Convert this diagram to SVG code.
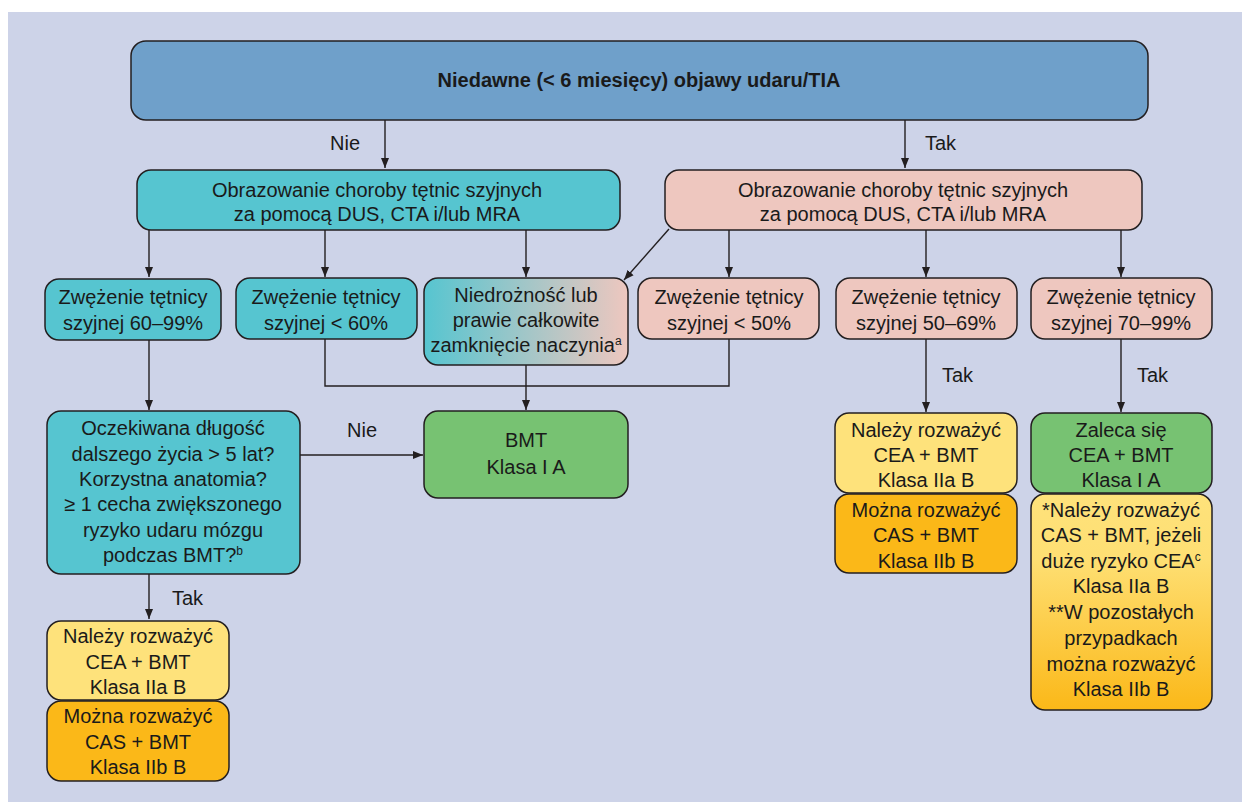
<svg xmlns="http://www.w3.org/2000/svg" width="1242" height="802" viewBox="0 0 1242 802">
<defs>
<style>
.box{stroke:#231f20;stroke-width:1.5}
.t{font-family:"Liberation Sans",Arial,sans-serif;font-size:20px;fill:#1a1a1a;text-anchor:middle}
.tb{font-family:"Liberation Sans",Arial,sans-serif;font-size:20px;font-weight:bold;fill:#1a1a1a;text-anchor:middle}
.lbl{font-family:"Liberation Sans",Arial,sans-serif;font-size:20px;fill:#1a1a1a}
.teal{fill:#56c5d0}
.pink{fill:#eec7bf}
.green{fill:#77c272}
.yellow{fill:#fee27b}
.orange{fill:#fbb818}
.c{fill:none;stroke:#231f20;stroke-width:1.4}
.sup{font-size:12px}
</style>
<marker id="ah" markerUnits="userSpaceOnUse" markerWidth="10" markerHeight="10" viewBox="0 0 10 10" refX="10" refY="5" orient="auto">
<path d="M0,1 L10,5 L0,9 z" fill="#231f20"/>
</marker>
<linearGradient id="tp" x1="0" y1="0" x2="1" y2="0">
<stop offset="0" stop-color="#56c5d0"/>
<stop offset="1" stop-color="#eec7bf"/>
</linearGradient>
<linearGradient id="yo" x1="0" y1="0" x2="0" y2="1">
<stop offset="0" stop-color="#fee27b"/>
<stop offset="0.3" stop-color="#fedf73"/>
<stop offset="1" stop-color="#fbb818"/>
</linearGradient>
</defs>
<rect x="8" y="12" width="1234" height="790" fill="#cdd3e8"/>

<g id="connectors">
<line class="c" x1="385" y1="120" x2="385" y2="168" marker-end="url(#ah)"/>
<line class="c" x1="905" y1="120" x2="905" y2="168" marker-end="url(#ah)"/>
<line class="c" x1="149" y1="230" x2="149" y2="277" marker-end="url(#ah)"/>
<line class="c" x1="325" y1="230" x2="325" y2="277" marker-end="url(#ah)"/>
<line class="c" x1="526" y1="230" x2="526" y2="277" marker-end="url(#ah)"/>
<line class="c" x1="669" y1="229" x2="624" y2="280" marker-end="url(#ah)"/>
<line class="c" x1="729" y1="230" x2="729" y2="277" marker-end="url(#ah)"/>
<line class="c" x1="926" y1="230" x2="926" y2="277" marker-end="url(#ah)"/>
<line class="c" x1="1121" y1="230" x2="1121" y2="277" marker-end="url(#ah)"/>
<polyline class="c" points="325,339 325,386 729,386 729,339"/>
<line class="c" x1="526" y1="365" x2="526" y2="410" marker-end="url(#ah)"/>
<line class="c" x1="149" y1="340" x2="149" y2="410" marker-end="url(#ah)"/>
<line class="c" x1="300" y1="455" x2="423" y2="455" marker-end="url(#ah)"/>
<line class="c" x1="149" y1="574" x2="149" y2="619" marker-end="url(#ah)"/>
<line class="c" x1="926" y1="339" x2="926" y2="412" marker-end="url(#ah)"/>
<line class="c" x1="1121" y1="339" x2="1121" y2="412" marker-end="url(#ah)"/>
<text class="lbl" x="330" y="150">Nie</text>
<text class="lbl" x="925" y="150">Tak</text>
<text class="lbl" x="347" y="437">Nie</text>
<text class="lbl" x="172" y="605">Tak</text>
<text class="lbl" x="942" y="382">Tak</text>
<text class="lbl" x="1137" y="382">Tak</text>
</g>

<g id="top">
<rect class="box" x="131" y="41" width="1017" height="79" rx="15" fill="#6fa0ca"/>
<text class="tb" x="639" y="87">Niedawne (&lt; 6 miesięcy) objawy udaru/TIA</text>
</g>

<g id="img-left">
<rect class="box teal" x="137" y="170" width="483" height="60" rx="14"/>
<text class="t" x="377" y="197">Obrazowanie choroby tętnic szyjnych</text>
<text class="t" x="377" y="221">za pomocą DUS, CTA i/lub MRA</text>
</g>

<g id="img-right">
<rect class="box pink" x="665" y="170" width="477" height="60" rx="14"/>
<text class="t" x="903" y="197">Obrazowanie choroby tętnic szyjnych</text>
<text class="t" x="903" y="221">za pomocą DUS, CTA i/lub MRA</text>
</g>

<g id="s6099">
<rect class="box teal" x="45" y="279" width="176" height="61" rx="14"/>
<text class="t" x="133" y="304">Zwężenie tętnicy</text>
<text class="t" x="133" y="330">szyjnej 60–99%</text>
</g>

<g id="s60">
<rect class="box teal" x="236" y="278" width="181" height="61" rx="14"/>
<text class="t" x="326" y="304">Zwężenie tętnicy</text>
<text class="t" x="326" y="330">szyjnej &lt; 60%</text>
</g>

<g id="occl">
<rect class="box" x="424" y="278" width="204" height="87" rx="14" fill="url(#tp)"/>
<text class="t" x="526" y="302">Niedrożność lub</text>
<text class="t" x="526" y="327">prawie całkowite</text>
<text class="t" x="526" y="352">zamknięcie naczynia<tspan class="sup" dy="-7">a</tspan></text>
</g>

<g id="s50">
<rect class="box pink" x="638" y="278" width="181" height="61" rx="14"/>
<text class="t" x="729" y="304">Zwężenie tętnicy</text>
<text class="t" x="729" y="330">szyjnej &lt; 50%</text>
</g>

<g id="s5069">
<rect class="box pink" x="836" y="278" width="181" height="61" rx="14"/>
<text class="t" x="926" y="304">Zwężenie tętnicy</text>
<text class="t" x="926" y="330">szyjnej 50–69%</text>
</g>

<g id="s7099">
<rect class="box pink" x="1031" y="278" width="181" height="61" rx="14"/>
<text class="t" x="1121" y="304">Zwężenie tętnicy</text>
<text class="t" x="1121" y="330">szyjnej 70–99%</text>
</g>

<g id="question">
<rect class="box teal" x="47" y="411" width="253" height="163" rx="14"/>
<text class="t" x="173" y="435">Oczekiwana długość</text>
<text class="t" x="173" y="460.5">dalszego życia &gt; 5 lat?</text>
<text class="t" x="173" y="486">Korzystna anatomia?</text>
<text class="t" x="173" y="511">≥ 1 cecha zwiększonego</text>
<text class="t" x="173" y="537">ryzyko udaru mózgu</text>
<text class="t" x="173" y="562">podczas BMT?<tspan class="sup" dy="-7">b</tspan></text>
</g>

<g id="bmt">
<rect class="box green" x="424" y="411" width="204" height="87" rx="14"/>
<text class="t" x="526" y="447">BMT</text>
<text class="t" x="526" y="474">Klasa I A</text>
</g>

<g id="left-cea">
<rect class="box yellow" x="47" y="621" width="182" height="79" rx="14"/>
<text class="t" x="138" y="643">Należy rozważyć</text>
<text class="t" x="138" y="669">CEA + BMT</text>
<text class="t" x="138" y="694">Klasa IIa B</text>
</g>

<g id="left-cas">
<rect class="box orange" x="47" y="701" width="182" height="80" rx="14"/>
<text class="t" x="138" y="723">Można rozważyć</text>
<text class="t" x="138" y="749">CAS + BMT</text>
<text class="t" x="138" y="774">Klasa IIb B</text>
</g>

<g id="mid-cea">
<rect class="box yellow" x="835" y="413" width="182" height="80" rx="14"/>
<text class="t" x="926" y="437">Należy rozważyć</text>
<text class="t" x="926" y="462">CEA + BMT</text>
<text class="t" x="926" y="487">Klasa IIa B</text>
</g>

<g id="mid-cas">
<rect class="box orange" x="835" y="494" width="182" height="79" rx="14"/>
<text class="t" x="926" y="517">Można rozważyć</text>
<text class="t" x="926" y="542">CAS + BMT</text>
<text class="t" x="926" y="568">Klasa IIb B</text>
</g>

<g id="right-cea">
<rect class="box green" x="1031" y="413" width="181" height="80" rx="14"/>
<text class="t" x="1121" y="437">Zaleca się</text>
<text class="t" x="1121" y="462">CEA + BMT</text>
<text class="t" x="1121" y="487">Klasa I A</text>
</g>

<g id="right-cas">
<rect class="box" x="1031" y="494" width="181" height="216" rx="14" fill="url(#yo)"/>
<text class="t" x="1121" y="517">*Należy rozważyć</text>
<text class="t" x="1121" y="542">CAS + BMT, jeżeli</text>
<text class="t" x="1121" y="568">duże ryzyko CEA<tspan class="sup" dy="-7">c</tspan></text>
<text class="t" x="1121" y="593">Klasa IIa B</text>
<text class="t" x="1121" y="619">**W pozostałych</text>
<text class="t" x="1121" y="645">przypadkach</text>
<text class="t" x="1121" y="671">można rozważyć</text>
<text class="t" x="1121" y="696">Klasa IIb B</text>
</g>
</svg>
